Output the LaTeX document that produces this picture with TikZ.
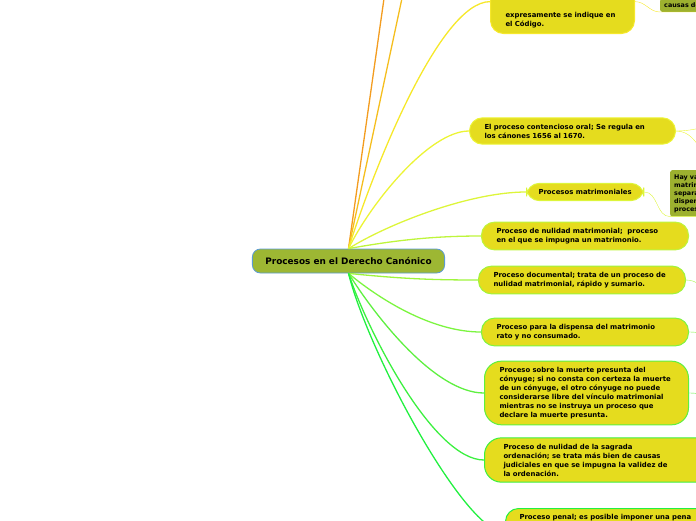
\documentclass[tikz,border=0pt]{standalone}
\usepackage{fontspec}
\setmainfont{DejaVu Sans}

\definecolor{topicfill}{HTML}{E5DC1E}
\definecolor{notefill}{HTML}{9DB12F}
\definecolor{rootfill}{HTML}{9DB733}
\definecolor{rootline}{HTML}{5B9BD5}
\definecolor{orangeA}{HTML}{F39C1F}
\definecolor{orangeB}{HTML}{F5BE1E}
\definecolor{branchA}{HTML}{F6E82A}
\definecolor{branchB}{HTML}{ECF435}
\definecolor{branchC}{HTML}{DDF53A}
\definecolor{branchD}{HTML}{BEF53C}
\definecolor{branchE}{HTML}{9EF53C}
\definecolor{branchF}{HTML}{7CF540}
\definecolor{branchG}{HTML}{5EF040}
\definecolor{branchH}{HTML}{3CF040}
\definecolor{branchI}{HTML}{22F040}

\begin{document}
\begin{tikzpicture}
  [x=1pt,y=-1pt,
   central/.style={rounded corners=8pt,draw=rootline,fill=rootfill,thick,
inner xsep=13pt,minimum height=24pt,font=\fontsize{8.9}{10}\selectfont\bfseries},
   topic/.style={anchor=west,rounded corners=13pt,fill=topicfill,line width=1pt,
inner xsep=15pt,inner ysep=6pt,align=left,font=\fontsize{6.9}{9}\selectfont\bfseries},
   note/.style={rounded corners=2pt,fill=notefill,inner sep=4pt,align=left,
text width=60pt,font=\fontsize{6.4}{8}\selectfont\bfseries},
   branch/.style={line width=1.3pt}]
  \useasboundingbox (0,0) rectangle (696,520);
  \clip (0,0) rectangle (696,520);

  \node[central] (root) at (348.5,261) {Procesos en el Derecho Canónico};

  % ramas de arriba
  \node[topic,anchor=south west,draw=branchA,text width=114pt] (suplet) at (490,34)
    {\vspace*{27pt}sus normas, salvo en lo que\\expresamente se indique en\\el Código.};
  \node[note,anchor=south west] (causas) at (660,12) {causas de};
  \node[topic,draw=branchB,text width=176pt] (oral) at (469,131)
    {El proceso contencioso oral; Se regula en\\los cánones 1656 al 1670.};
  \node[topic,draw=branchC,inner xsep=12pt] (matrim) at (526,192) {Procesos matrimoniales};
  \node[note,anchor=north west] (varios) at (670,170)
    {Hay varios\\matrimoniales\\separación\\dispensa\\procesos};

  % ramas de abajo
  \node[topic,draw=branchD,text width=177pt] (nulidad) at (481,236)
    {Proceso de nulidad matrimonial; \ proceso\\en el que se impugna un matrimonio.};
  \node[topic,draw=branchE,text width=177pt] (documental) at (478,280)
    {Proceso documental; trata de un proceso de\\nulidad matrimonial, rápido y sumario.};
  \node[topic,draw=branchF,text width=177pt] (dispensa) at (481,332)
    {Proceso para la dispensa del matrimonio\\rato y no consumado.};
  \node[topic,draw=branchG,text width=174pt,rounded corners=17pt] (muerte) at (484,393)
    {Proceso sobre la muerte presunta del\\cónyuge; si no consta con certeza la muerte\\de un cónyuge, el otro cónyuge no puede\\considerarse libre del vínculo matrimonial\\mientras no se instruya un proceso que\\declare la muerte presunta.};
  \node[topic,draw=branchH,text width=190pt,inner xsep=19pt,rounded corners=17pt] (sagrada) at (484,460)
    {Proceso de nulidad de la sagrada\\ordenación; se trata más bien de causas\\judiciales en que se impugna la validez de\\la ordenación.};
  \node[topic,anchor=north west,draw=branchI,text width=200pt,inner xsep=14pt] (penal) at (505,508)
    {Proceso penal; es posible imponer una pena\vspace*{30pt}};

  \coordinate (upA) at (398,-100);
  \coordinate (upB) at (423,-100);
  \coordinate (oralA) at (730,124);
  \coordinate (oralB) at (730,175);
  \coordinate (docA) at (730,305);
  \coordinate (dispA) at (730,337);
  \coordinate (muerteA) at (730,398);

  \draw[branch,orangeA] (root.north) -- (upA);
  \draw[branch,orangeB] (root.north) -- (upB);
  \draw[branch,branchA] (root.north) .. controls +(25,-80) and +(-50,0) .. (suplet.west);
  \draw[branch,branchB] (root.north) .. controls +(22,-45) and +(-40,0) .. (oral.west);
  \draw[branch,branchC] (root.north) .. controls +(40,-25) and +(-56,0) .. (matrim.west);
  \draw[branch,branchD] (root.north) .. controls +(45,-8) and +(-50,0) .. (nulidad.west);
  \draw[branch,branchE] (root.south) .. controls +(50,5) and +(-50,0) .. (documental.west);
  \draw[branch,branchF] (root.south) .. controls +(30,25) and +(-50,0) .. (dispensa.west);
  \draw[branch,branchG] (root.south) .. controls +(25,40) and +(-50,0) .. (muerte.west);
  \draw[branch,branchH] (root.south) .. controls +(20,60) and +(-50,0) .. (sagrada.west);
  \draw[branch,branchI] (root.south) .. controls +(20,80) and +(-40,0) .. (penal.west);

  % hacia la derecha
  \draw[branchA] (suplet.east) to[out=0,in=180] (causas.south west) -- (causas.south east);
  \draw[branchC] (matrim.east) to[out=0,in=180] (varios.south west) -- (varios.south east);
  \draw[branchB] (oral.east) to[out=0,in=180] (oralA);
  \draw[branchB] (oral.east) to[out=0,in=180] (oralB);
  \draw[branchE] (documental.east) to[out=0,in=180] (docA);
  \draw[branchF] (dispensa.east) to[out=0,in=180] (dispA);
  \draw[branchG] (muerte.east) to[out=0,in=180] (muerteA);
\end{tikzpicture}
\end{document}
